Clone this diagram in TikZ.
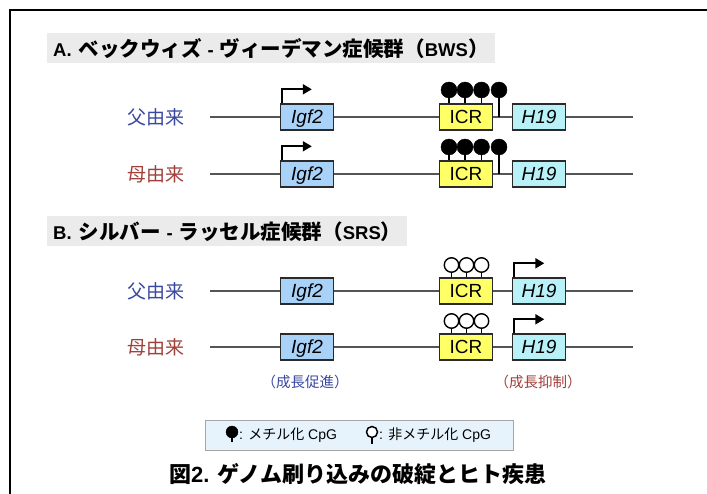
\documentclass[tikz,border=0pt]{standalone}
\usepackage{fontspec}
\setmainfont{Liberation Sans}
\setsansfont{Liberation Sans}
\newfontfamily\cjk{Noto Sans CJK JP}
\usetikzlibrary{arrows.meta}
\definecolor{pat}{HTML}{3A48A0}
\definecolor{mat}{HTML}{A0403A}
\definecolor{igfc}{HTML}{A8D2F8}
\definecolor{icrc}{HTML}{FFFF66}
\definecolor{hc}{HTML}{B8F2F8}
\definecolor{headc}{HTML}{EBEBEB}
\definecolor{legc}{HTML}{E6F3FC}
\definecolor{linec}{HTML}{555555}
\definecolor{bordc}{HTML}{2A2A2A}
\newcommand{\hj}[1]{{\cjk\bfseries\fontsize{20.5}{20.5}\selectfont #1}}
\newcommand{\hdash}{\hspace{6pt}-\hspace{6pt}}
\tikzset{
  gene/.style={draw=bordc, line width=1.4pt, minimum width=53pt, minimum height=26pt, inner sep=0pt, text height=13.6pt, text depth=0pt, font=\fontsize{19}{19}\selectfont},
  chrom/.style={draw=linec, line width=2pt},
  rowlab/.style={font=\cjk\fontsize{19}{19}\selectfont},
  heading/.style={fill=headc, anchor=west, inner xsep=6pt, minimum height=30pt, font=\bfseries\fontsize{18.5}{18.5}\selectfont},
  mfill/.style={circle, fill=black, draw=black, minimum size=16pt, inner sep=0pt},
  mopen/.style={circle, fill=white, draw=black, line width=1.4pt, minimum size=14.5pt, inner sep=0pt},
  stem/.style={draw=black, line width=1.4pt},
  promo/.style={draw=black, line width=2pt, -{Triangle[length=9pt, width=10pt]}},
  effect/.style={font=\cjk\fontsize{14.5}{14.5}\selectfont},
}
\begin{document}
\begin{tikzpicture}[x=1pt, y=-1pt]
\useasboundingbox (0,0) rectangle (707,494);
% frame
\draw[line width=2pt] (10,500) -- (10,10) -- (720,10);
% headings
\node[heading] (hA) at (47,48.5) {A.\hspace{7pt}\hj{ベックウィズ}\hdash\hj{ヴィーデマン症候群（}BWS\hj{）}};
\node[heading] (hB) at (47,231.5) {B.\hspace{7pt}\hj{シルバー}\hdash\hj{ラッセル症候群（}SRS\hj{）}};
% rows
\foreach \r/\y/\lab/\col in {1/117/父由来/pat, 2/174/母由来/mat, 3/291/父由来/pat, 4/347/母由来/mat}{
  \coordinate (L\r) at (210,\y);
  \coordinate (R\r) at (633,\y);
  \draw[chrom] (L\r) -- (R\r);
  \node[rowlab, text=\col] (lab\r) at (156,\y) {\lab};
  \node[gene, fill=igfc] (igf\r) at (307,\y) {\itshape Igf2};
  \node[gene, fill=icrc] (icr\r) at (466,\y) {ICR};
  \node[gene, fill=hc] (h\r) at (539,\y) {\itshape H19};
}
% A: methylated lollipops and Igf2 promoters
\foreach \r in {1,2}{
  \foreach \i/\dx in {1/-17,2/-1,3/15.5}{
    \node[mfill] (m\r\i) at ([xshift=\dx pt, yshift=27pt]icr\r.center) {};
    \draw[stem] (m\r\i.center) -- (m\r\i.center |- icr\r.north);
  }
  \node[mfill] (m\r4) at ([xshift=33pt, yshift=27pt]icr\r.center) {};
  \coordinate (s\r) at (m\r4.center |- L\r);
  \draw[stem] (m\r4.center) -- (s\r);
  \coordinate (p\r) at ([xshift=2pt]igf\r.north west);
  \draw[promo] (p\r) |- ++(30,-14);
}
% B: unmethylated lollipops and H19 promoters
\foreach \r in {3,4}{
  \foreach \i/\dx in {1/-14.5,2/0.5,3/15.5}{
    \node[mopen] (u\r\i) at ([xshift=\dx pt, yshift=26pt]icr\r.center) {};
    \draw[stem] (u\r\i.south) -- (u\r\i.south |- icr\r.north);
  }
  \coordinate (q\r) at ([xshift=2.5pt]h\r.north west);
  \draw[promo] (q\r) |- ++(30,-14);
}
% effect labels
\node[effect, text=pat] (e1) at (305,382) {（成長促進）};
\node[effect, text=mat] (e2) at (538,382) {（成長抑制）};
% legend
\node[draw=black!35, fill=legc, minimum width=308pt, minimum height=30pt, inner sep=0pt] (leg) at (359,435) {};
\node[mfill, minimum size=12pt] (lf) at (232,432) {};
\draw[stem, line width=2pt] (lf.center) -- ++(0,10);
\node[anchor=west, inner sep=0pt, font=\fontsize{14}{14}\selectfont] (lt1) at (239,435) {: {\cjk メチル化} CpG};
\node[mopen, minimum size=11pt, line width=1.5pt] (lo) at (372,432) {};
\draw[stem, line width=1.5pt] (lo.south) -- ++(0,6);
\node[anchor=west, inner sep=0pt, font=\fontsize{14}{14}\selectfont] (lt2) at (379,435) {: {\cjk 非メチル化} CpG};
% title
\node[font=\bfseries\fontsize{22}{22}\selectfont] (title) at (358,474) {{\cjk\bfseries 図}2. {\cjk\bfseries ゲノム刷り込みの破綻とヒト疾患}};
\end{tikzpicture}
\end{document}
